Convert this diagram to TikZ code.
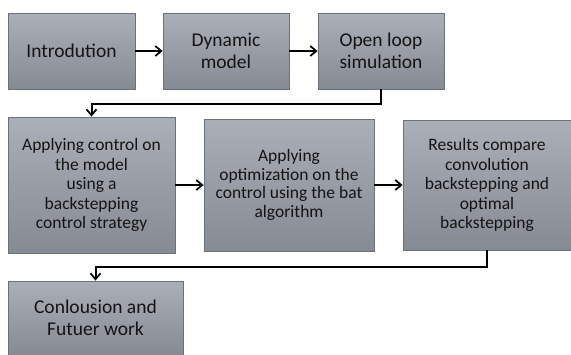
\documentclass[tikz,border=0pt]{standalone}
\usepackage{fontspec}
\setmainfont{Carlito}
\usetikzlibrary{arrows.meta}

\definecolor{boxtop}{HTML}{ABAFB7}
\definecolor{boxbot}{HTML}{868A93}
\definecolor{boxline}{HTML}{6C7079}

\tikzset{
    stage/.style={draw=boxline, line width=0.8pt, top color=boxtop, bottom color=boxbot,
        align=center, text=black!92, inner sep=1pt},
    bigstage/.style={stage, font=\fontsize{19.5}{21.8}\selectfont},
    smallstage/.style={stage, font=\fontsize{17.5}{19.5}\selectfont},
    flow/.style={line width=2pt, -{Straight Barb[length=6pt,width=10pt,line width=1.7pt]}},
}

\begin{document}
\begin{tikzpicture}[x=1pt, y=-1pt]
        \useasboundingbox (0,0) rectangle (571,354);

        % top row
        \node[bigstage, minimum width=127pt, minimum height=76pt] (intro) at (71.5, 51) {Introdution};
        \node[bigstage, minimum width=126pt, minimum height=76pt] (dyn) at (226, 51) {Dynamic\\model};
        \node[bigstage, minimum width=126pt, minimum height=76pt] (open) at (381, 51) {Open loop\\simulation};

        % middle row
        \node[smallstage, minimum width=167pt, minimum height=136pt] (ctrl) at (91.5, 185)
            {Applying control on\\the model\\using a\\backstepping\\control strategy};
        \node[smallstage, minimum width=170pt, minimum height=132pt, font=\fontsize{17.5}{18.5}\selectfont] (bat) at (289, 185)
            {Applying\\optimization on the\\control using the bat\\algorithm};
        \node[smallstage, minimum width=168pt, minimum height=130pt] (res) at (487, 185)
            {Results compare\\convolution\\backstepping and\\optimal\\backstepping};

        % bottom row
        \node[bigstage, minimum width=175pt, minimum height=74pt] (concl) at (95.5, 318)
            {Conlousion and\\Futuer work};

        \draw[flow] (intro) -- (dyn);
        \draw[flow] (dyn) -- (open);
        \draw[flow] (open.south) -- ++(0,15) -| (ctrl.north);
        \draw[flow] (ctrl) -- (bat);
        \draw[flow] (bat) -- (res);
        \draw[flow] (res.south) -- ++(0,17) -| (concl.north);
    \end{tikzpicture}
\end{document}
